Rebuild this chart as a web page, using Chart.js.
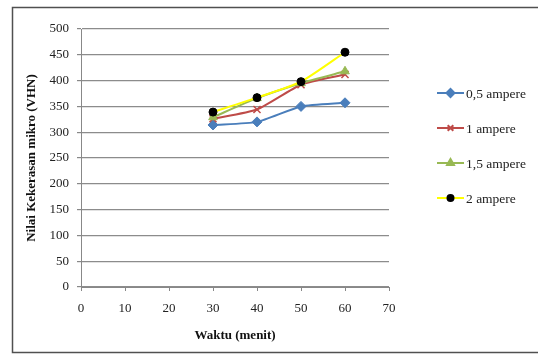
<!DOCTYPE html>
<html><head><meta charset="utf-8">
<script src="https://cdn.jsdelivr.net/npm/chart.js@4/dist/chart.umd.min.js"></script>
<style>html,body{margin:0;padding:0;background:#fff}#wrap{width:538px;height:354px;position:relative}</style>
</head><body><div id="wrap"><canvas id="c" width="538" height="354"></canvas></div>
<script>
const waktu = [30, 40, 50, 60];
const seriesLabels = ['0,5 ampere', '1 ampere', '1,5 ampere', '2 ampere'];
const a05 = [314, 320, 350, 357];
const a1 = [326, 344, 392, 412];
const a15 = [329, 366, 395, 418];
const a2 = [339, 367, 398, 455];
const yTicks = [0, 50, 100, 150, 200, 250, 300, 350, 400, 450, 500];
const xTicks = [0, 10, 20, 30, 40, 50, 60, 70];

const SERIF = "'Liberation Serif', 'Times New Roman', serif";
const toPts = v => waktu.map((x, i) => ({x: x, y: v[i]}));

const styles = [
  {color: '#4a7ebb', point: 'rectRot', r: 5, pc: '#4a7ebb', order: 4},
  {color: '#be4b48', point: 'crossRot', r: 5, pc: '#be4b48', order: 3},
  {color: '#98b954', point: 'triangle', r: 5, pc: '#98b954', order: 2},
  {color: '#ffff00', point: 'circle', r: 4, pc: '#000000', order: 1}
];
const values = [a05, a1, a15, a2];

const datasets = values.map((v, i) => ({
  label: seriesLabels[i],
  data: toPts(v),
  borderColor: styles[i].color,
  backgroundColor: styles[i].pc,
  pointBackgroundColor: styles[i].pc,
  pointBorderColor: styles[i].pc,
  pointStyle: styles[i].point,
  pointRadius: styles[i].r,
  pointBorderWidth: i === 1 ? 1.5 : 1,
  borderWidth: 2,
  order: styles[i].order,
  tension: 0.2
}));

const framePlugin = {
  id: 'frame',
  afterDraw(chart) {
    const ctx = chart.ctx;
    ctx.save();
    ctx.strokeStyle = '#505050';
    ctx.lineWidth = 1.5;
    ctx.strokeRect(12.5, 7.5, 540, 345);
    // legend
    const ys = [93, 128, 163, 198];
    chart.data.datasets.forEach((ds, i) => {
      const y = ys[i];
      ctx.strokeStyle = ds.borderColor;
      ctx.lineWidth = 2;
      ctx.beginPath(); ctx.moveTo(437, y); ctx.lineTo(464, y); ctx.stroke();
      ctx.fillStyle = ds.pointBackgroundColor;
      ctx.strokeStyle = ds.pointBorderColor;
      Chart.helpers.drawPoint(ctx, {pointStyle: ds.pointStyle, radius: i === 3 ? 3 : 4, borderWidth: 1, rotation: 0}, 450.5, y);
      ctx.fillStyle = '#222';
      ctx.font = '13.5px ' + SERIF;
      ctx.textBaseline = 'middle';
      ctx.textAlign = 'left';
      ctx.fillText(ds.label, 466, y + 1);
    });
    ctx.restore();
  }
};

new Chart(document.getElementById('c'), {
  type: 'line',
  data: {datasets},
  options: {
    responsive: false,
    animation: false,
    devicePixelRatio: 1,
    layout: {padding: {left: 12, right: 149, top: 29, bottom: 0}},
    plugins: {legend: {display: false}, tooltip: {enabled: false}},
    scales: {
      x: {
        type: 'linear', min: 0, max: 70,
        afterBuildTicks: s => { s.ticks = xTicks.map(v => ({value: v})); },
        afterFit: s => { s.height = 67; },
        grid: {drawOnChartArea: false, drawTicks: true, tickLength: 4, color: '#888', tickColor: '#888'},
        border: {color: '#888', width: 1},
        ticks: {color: '#222', font: {family: SERIF, size: 13}, padding: 10, maxRotation: 0},
        title: {display: true, text: 'Waktu (menit)', color: '#111', font: {family: SERIF, size: 13, weight: 'bold'}, padding: {bottom: 11, top: 0}}
      },
      y: {
        type: 'linear', min: 0, max: 500,
        afterBuildTicks: s => { s.ticks = yTicks.map(v => ({value: v})); },
        afterFit: s => { s.width = 69; },
        grid: {color: '#8c8c8c', tickLength: 4, lineWidth: 1.2, tickColor: '#888'},
        border: {color: '#888', width: 1},
        ticks: {color: '#222', font: {family: SERIF, size: 13}, padding: 8},
        title: {display: true, text: 'Nilai Kekerasan mikro (VHN)', color: '#111', font: {family: SERIF, size: 13, weight: 'bold'}, padding: {top: 12, bottom: 0}}
      }
    }
  },
  plugins: [framePlugin]
});
</script>
</body></html>
